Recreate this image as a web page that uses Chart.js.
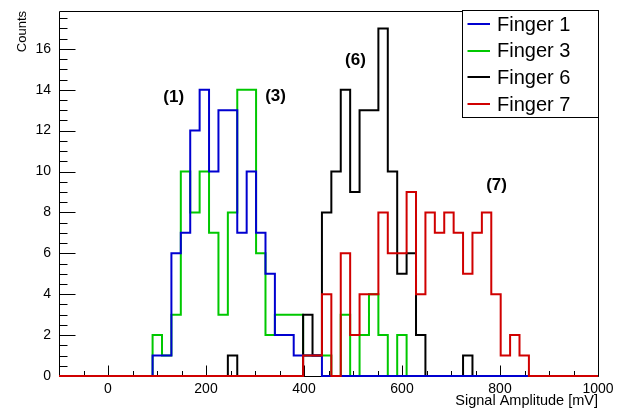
<!DOCTYPE html>
<html><head><meta charset="utf-8">
<script src="https://cdn.jsdelivr.net/npm/chart.js@4/dist/chart.umd.min.js"></script>
<style>html,body{margin:0;padding:0;background:#fff;}canvas{display:block;}</style>
</head><body>
<canvas id="c" width="621" height="413"></canvas>
<script>
// Bin low edges (mV); the last entry is the upper edge of the last bin
const binEdges = [91, 110.2, 129.4, 148.6, 167.8, 187, 206.2, 225.4, 244.6, 263.8,
  283, 302.2, 321.4, 340.6, 359.8, 379, 398.2, 417.4, 436.6, 455.8,
  475, 494.2, 513.4, 532.6, 551.8, 571, 590.2, 609.4, 628.6, 647.8,
  667, 686.2, 705.4, 724.6, 743.8, 763, 782.2, 801.4, 820.6, 839.8, 859];

const finger1 = [1,1,6,7,12,14,10,13,13,7, 10,7,5,2,2,1,1,1,0,0, 0,0,0,0,0,0,0,0,0,0, 0,0,0,0,0,0,0,0,0,0];
const finger3 = [2,1,3,10,8,10,7,3,8,14, 14,6,2,3,3,3,1,1,1,0, 3,0,2,4,2,0,2,0,0,0, 0,0,0,0,0,0,0,0,0,0];
const finger6 = [0,0,0,0,0,0,0,0,1,0, 0,0,0,0,0,0,3,1,8,10, 14,9,13,13,17,10,5,6,2,0, 0,0,0,1,0,0,0,0,0,0];
const finger7 = [0,0,0,0,0,0,0,0,0,0, 0,0,0,0,0,0,1,1,4,0, 6,2,4,4,8,6,6,9,4,8, 7,8,7,5,7,8,4,1,2,1];

const seriesLabels = ['Finger 1', 'Finger 3', 'Finger 6', 'Finger 7'];
const seriesColors = ['#0000d0', '#00c800', '#000000', '#d00000'];
const seriesOrder = [1, 3, 2, 0];

const xRange = [-100, 1000];
const yRange = [0, 17.85];

const annotationTexts = ['(1)', '(3)', '(6)', '(7)'];
const annotationX = [134, 342, 505, 793];
const annotationY = [13.65, 13.67, 15.43, 9.32];

const FONT = '"Liberation Sans", Arial, Helvetica, sans-serif';

function histPoints(counts) {
  const pts = [{x: xRange[0], y: 0}];
  counts.forEach((c, i) => pts.push({x: binEdges[i], y: c}));
  pts.push({x: binEdges[counts.length], y: 0});
  pts.push({x: xRange[1], y: 0});
  return pts;
}

const allSeries = [finger1, finger3, finger6, finger7];
const datasets = allSeries.map((s, i) => ({
  label: seriesLabels[i],
  data: histPoints(s),
  borderColor: seriesColors[i],
  backgroundColor: seriesColors[i],
  borderWidth: 2,
  pointRadius: 0,
  stepped: 'before',
  fill: false,
  clip: false,
  order: seriesOrder[i],
  borderJoinStyle: 'miter',
  borderCapStyle: 'butt'
}));

const rootPlugin = {
  id: 'rootStyle',
  beforeDatasetsDraw(chart) {
    const {ctx, chartArea: a, scales: {x, y}} = chart;
    ctx.save();
    ctx.strokeStyle = '#000';
    ctx.lineWidth = 1;
    const L = Math.round(a.left) + 0.5, R = Math.round(a.right) + 0.5;
    const T = Math.round(a.top) + 0.5, B = Math.round(a.bottom) + 0.5;
    ctx.beginPath();
    ctx.rect(L, T, R - L, B - T);
    ctx.stroke();
    ctx.beginPath();
    for (let v = -50; v <= 1000; v += 50) {
      const px = Math.round(x.getPixelForValue(v)) + 0.5;
      const len = (v % 200 === 0) ? 11 : 5.5;
      ctx.moveTo(px, B); ctx.lineTo(px, B - len);
    }
    for (let v = 0.5; v <= yRange[1]; v += 0.5) {
      const py = Math.round(y.getPixelForValue(v)) + 0.5;
      const len = (Math.abs(v % 2) < 1e-6) ? 16 : 8;
      ctx.moveTo(L, py); ctx.lineTo(L + len, py);
    }
    ctx.stroke();
    ctx.restore();
  },
  afterDatasetsDraw(chart) {
    const {ctx, scales: {x, y}} = chart;
    ctx.save();
    ctx.fillStyle = '#000';
    ctx.font = 'bold 17px ' + FONT;
    ctx.textAlign = 'center';
    ctx.textBaseline = 'middle';
    annotationTexts.forEach((t, i) => {
      ctx.fillText(t, x.getPixelForValue(annotationX[i]), y.getPixelForValue(annotationY[i]));
    });
    const bx = 462.5, by = 10.5, bw = 136, bh = 107;
    ctx.fillStyle = '#fff';
    ctx.fillRect(bx, by, bw, bh);
    ctx.strokeStyle = '#000';
    ctx.lineWidth = 1;
    ctx.strokeRect(bx, by, bw, bh);
    ctx.font = '20px ' + FONT;
    ctx.textAlign = 'left';
    ctx.textBaseline = 'middle';
    chart.data.datasets.forEach((ds, i) => {
      const cy = 24 + 26.7 * i;
      ctx.strokeStyle = ds.borderColor;
      ctx.lineWidth = 2;
      ctx.beginPath();
      ctx.moveTo(467.5, Math.round(cy));
      ctx.lineTo(490, Math.round(cy));
      ctx.stroke();
      ctx.fillStyle = '#000';
      ctx.fillText(ds.label, 497, cy + 1);
    });
    ctx.restore();
  }
};

new Chart(document.getElementById('c'), {
  type: 'line',
  data: {datasets},
  options: {
    responsive: false,
    animation: false,
    devicePixelRatio: 1,
    layout: {padding: {left: 0, top: 11, right: 23, bottom: 0}},
    plugins: {legend: {display: false}, tooltip: {enabled: false}},
    scales: {
      x: {
        type: 'linear', min: xRange[0], max: xRange[1],
        grid: {display: false, drawTicks: false},
        border: {display: false},
        ticks: {stepSize: 200, includeBounds: false, color: '#000', font: {family: FONT, size: 14}, padding: 5, maxRotation: 0,
          callback: (v) => String(v)},
        title: {display: true, text: 'Signal Amplitude [mV]', align: 'end', color: '#000', font: {family: FONT, size: 14.5}, padding: {top: 0, bottom: 3}},
        afterFit(scale) { scale.height = 37; scale.paddingLeft = 0; scale.paddingRight = 0; }
      },
      y: {
        type: 'linear', min: yRange[0], max: yRange[1],
        grid: {display: false, drawTicks: false},
        border: {display: false},
        ticks: {stepSize: 2, includeBounds: false, color: '#000', font: {family: FONT, size: 14}, padding: 8,
          callback: (v) => String(v)},
        title: {display: true, text: 'Counts', align: 'end', color: '#000', font: {family: FONT, size: 13}, padding: {top: 15, bottom: 0}},
        afterFit(scale) { scale.width = 59; scale.paddingTop = 0; scale.paddingBottom = 0; }
      }
    }
  },
  plugins: [rootPlugin]
});
</script>
</body></html>
